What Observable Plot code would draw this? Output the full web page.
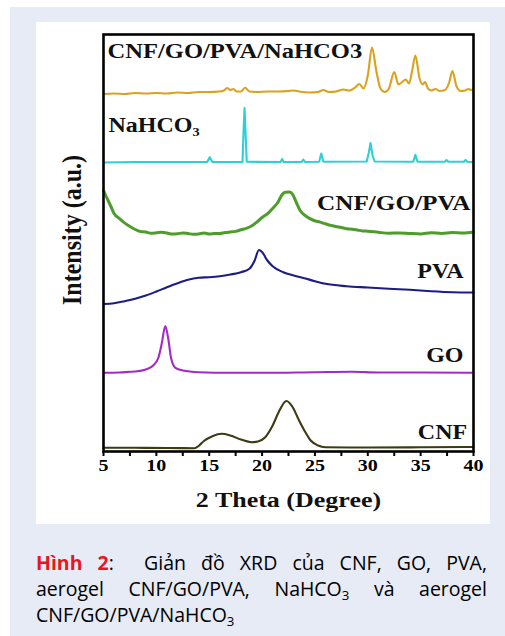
<!DOCTYPE html>
<html>
<head>
<meta charset="utf-8">
<script src="https://cdn.jsdelivr.net/npm/d3@7"></script>
<script src="https://cdn.jsdelivr.net/npm/@observablehq/plot@0.6"></script>
<style>
  html, body { margin: 0; padding: 0; background: #ffffff; }
  #outer { position: absolute; left: 10px; top: 7px; width: 495px; height: 629px; background: #e6ebf6; }
  #card { position: absolute; left: 36px; top: 22px; width: 454px; height: 502px; background: #ffffff; }
  #chart { position: absolute; left: 36px; top: 22px; }
  #cap { position: absolute; left: 36px; top: 550px; width: 451px; font-family: "Open Sans", sans-serif; font-size: 19.5px; line-height: 26px; color: #000; }
  #cap .j { text-align: justify; text-align-last: justify; }
  #cap sub { font-size: 0.68em; vertical-align: -0.3em; line-height: 0; }
  #cap .h { color: #e8161d; font-weight: bold; }
</style>
</head>
<body>
<div id="outer"></div>
<div id="card"></div>
<div id="chart"></div>
<div id="cap">
  <div class="j"><span class="h">Hình 2</span>:&nbsp;&nbsp;Giản đồ XRD của CNF, GO, PVA,</div>
  <div class="j">aerogel CNF/GO/PVA, NaHCO<sub>3</sub> và aerogel</div>
  <div>CNF/GO/PVA/NaHCO<sub>3</sub></div>
</div>
<script>
// ---- Data: [2θ (degree), stacked intensity (a.u.)] ----
const seriesNames = ["CNF/GO/PVA/NaHCO3", "NaHCO3", "CNF/GO/PVA", "PVA", "GO", "CNF"];
const seriesColors = ["#dba21e", "#2dd0d6", "#4e9c2c", "#1c1c84", "#a12bc4", "#3b3b14"];

const cnfGoPvaNa = [
  [5.0,357.5],[6,358],[7,357.5],[8,358.5],[9,358],[10,358.5],[11,358],[12,359],[13,358.5],[14,359.5],
  [15,359.5],[16,360],[16.4,361],[16.7,363.5],[17.0,361.5],[17.3,362.5],[17.6,360],[18.0,360],[18.4,363.7],
  [18.8,360],[19.5,359.5],[20.5,360],[21.5,360],[22.5,360.5],[23.0,361],[23.5,360],[24.5,359],[25.3,359.5],
  [25.8,361.5],[26.3,359.5],[27.0,360],[27.7,362],[28.2,361],[28.8,364],[29.2,367.5],[29.6,363],[30.0,376],
  [30.4,404],[30.8,381],[31.2,363],[31.6,359.5],[32.0,363],[32.5,379.5],[32.9,367],[33.2,369],[33.6,372],
  [33.9,368],[34.2,381],[34.5,396],[34.9,373],[35.2,367],[35.4,369.5],[35.7,363],[36.0,361],[36.4,362.5],
  [36.8,360.5],[37.3,361.5],[37.7,369],[38.0,380.5],[38.4,365],[38.8,360.5],[39.2,361],[39.5,362.5],
  [39.8,361.5],[40,363]
];
const nahco3 = [
  [5,289],[8,289.5],[12,289.5],[14.8,289.5],[15.05,294.3],[15.3,289.5],[18.15,289.5],[18.25,321],[18.34,343.5],
  [18.43,321],[18.55,289.7],[21.75,289.5],[21.9,292.5],[22.05,289.5],[23.75,289.5],[23.9,292],[24.05,289.5],
  [25.4,289.7],[25.6,298],[25.8,289.7],[29.9,290],[30.1,299],[30.26,308.5],[30.45,296],[30.65,290],
  [34.3,289.7],[34.5,296.7],[34.7,289.7],[37.3,289.7],[37.45,291.5],[37.6,289.7],[39.1,289.7],[39.25,291.5],
  [39.4,289.7],[40,289.5]
];
const cnfGoPva = [
  [5.0,261],[5.3,254],[5.7,245],[6.0,238],[6.5,233],[6.9,229.3],[7.5,225],[8.0,222],[8.5,220],[9.0,219.5],
  [9.5,218.3],[10,218.7],[10.5,219.3],[11,218.5],[11.5,217.4],[12,217.7],[12.5,218.6],[13,218],[13.5,217.2],
  [14,217.5],[14.5,218.4],[15,217.5],[15.5,217.9],[16,218],[16.5,218.9],[17,219.5],[17.5,220.1],[18,221.7],
  [18.5,223.1],[19,225.5],[19.5,229.3],[20,234],[20.5,237.7],[21,243],[21.5,249.3],[21.9,257],[22.2,259.3],
  [22.6,259.5],[22.9,257],[23.2,250],[23.6,241],[24.2,235],[24.9,231],[25.5,229.4],[26,227.7],[26.5,226.1],
  [27,225],[27.5,224],[28,222.7],[28.5,222.3],[29,221.5],[29.5,220.6],[30,220.3],[31,219.2],[32,218.3],
  [33,218.6],[34,218],[35,217.6],[36,218.7],[37,218.1],[38,219],[39,218.5],[40,219.5]
];
const pva = [
  [5,147.5],[6,148.3],[7,150.3],[8,152.7],[9,156],[10,160],[11,164.3],[12,168.3],[13,171.7],[14,173.7],
  [15,174.3],[16,175.3],[17,177],[18,179.3],[18.8,182.7],[19.3,191],[19.7,201.5],[20.0,199.5],[20.5,191],
  [21,185.3],[22,179.3],[23,176],[24,173.3],[25,170.3],[26,167.7],[28,165.3],[30,164],[32,162.7],[34,161.7],
  [36,160.3],[38,159.3],[40,159]
];
const go = [
  [5,78.7],[6.5,79],[7.5,79.7],[8,80],[9,82],[9.7,86],[10.2,94],[10.5,107.5],[10.85,125.5],[11.15,111],
  [11.4,93],[11.8,83.7],[12.5,81],[14,79.3],[17,78.7],[20,78.7],[25,79.3],[28.5,79.7],[31,79],[35,79],[40,78.7]
];
const cnf = [
  [5,3.7],[8,3.7],[11,3.5],[13.6,3.3],[14.0,5.5],[14.5,10.5],[15.3,15.3],[16.2,17.7],[17,16],[18,12],
  [19,9.3],[19.6,10],[20.3,14.3],[21,26],[21.6,40],[22.3,50.5],[22.9,44.3],[23.5,31],[24,21],[24.6,11],
  [25.3,6],[26,4.3],[30,4],[35,4.2],[40,4.5]
];
const seriesData = [cnfGoPvaNa, nahco3, cnfGoPva, pva, go, cnf];

// Series labels: text, anchor 2θ, anchor intensity, alignment
const labelTexts = ["CNF/GO/PVA/NaHCO3", "NaHCO₃", "CNF/GO/PVA", "PVA", "GO", "CNF"];
const labelX = [5.38, 5.47, 39.72, 39.05, 39.05, 39.4];
const labelY = [400, 326, 248, 180, 96, 19];
const labelAnchor = ["start", "start", "end", "end", "end", "end"];

const xTicks = [5, 7.5, 10, 12.5, 15, 17.5, 20, 22.5, 25, 27.5, 30, 32.5, 35, 37.5, 40];
const xLabel = "2 Theta (Degree)";
const yLabel = "Intensity (a.u.)";

// ---- Build table ----
const rows = [];
seriesData.forEach((s, k) => s.forEach(([t, v]) => rows.push({series: seriesNames[k], theta: t, intensity: v})));
const labels = labelTexts.map((t, i) => ({text: t, x: labelX[i], y: labelY[i], anchor: labelAnchor[i]}));

const serif = "'Liberation Serif', 'Times New Roman', serif";
const lineMarks = seriesNames.map((name, k) =>
  Plot.line(rows.filter(d => d.series === name), {
    x: "theta", y: "intensity", stroke: seriesColors[k],
    strokeWidth: name === "CNF/GO/PVA" ? 3 : 2.1,
    curve: name === "NaHCO3" ? "linear" : "monotone-x"
  })
);

const chart = Plot.plot({
  width: 454, height: 502,
  marginLeft: 67, marginTop: 12, marginRight: 17, marginBottom: 73,
  style: {fontFamily: serif, background: "transparent", color: "#000"},
  x: {domain: [5, 40]},
  y: {domain: [0, 417], axis: null},
  marks: [
    ...lineMarks,
    Plot.axisX({ticks: xTicks, tickSize: 5, tickPadding: 3, tickFormat: d => (d % 5 === 0 ? String(d) : ""),
      fontSize: 16, fontWeight: "bold", stroke: "#000", strokeWidth: 2, label: null}),
    Plot.frame({stroke: "#000", strokeWidth: 2.6}),
    Plot.text(labels.filter(d => d.anchor === "start"), {x: "x", y: "y", text: "text", textAnchor: "start",
      lineAnchor: "middle", fontSize: d => (d.text === "CNF/GO/PVA/NaHCO3" ? 21 : 20), fontWeight: "bold", fill: "#111"}),
    Plot.text(labels.filter(d => d.anchor === "end"), {x: "x", y: "y", text: "text", textAnchor: "end",
      lineAnchor: "middle", fontSize: 20, fontWeight: "bold", fill: "#111"}),
    Plot.text([xLabel], {frameAnchor: "bottom", dy: 49, lineAnchor: "middle", fontSize: 20, fontWeight: "bold", fill: "#111"}),
    Plot.text([yLabel], {frameAnchor: "left", dx: -31, dy: -13, rotate: -90, textAnchor: "middle",
      lineAnchor: "middle", fontSize: 24, fontWeight: "bold", fill: "#111"})
  ]
});
document.getElementById("chart").appendChild(chart);

// Horizontal stretch of glyphs to mimic the original figure's aspect
chart.querySelectorAll("text").forEach(t => {
  const txt = t.textContent;
  let sx = 1.2;
  if (/^\d+$/.test(txt)) sx = 1.25;
  if (txt === xLabel) sx = 1.3;
  if (txt === "CNF/GO/PVA/NaHCO3") sx = 1.17;
  if (txt === "CNF/GO/PVA") sx = 1.26;
  let tr = t.getAttribute("transform");
  if (!tr) {
    const x = t.getAttribute("x") || 0, y = t.getAttribute("y") || 0;
    t.removeAttribute("x"); t.removeAttribute("y");
    tr = `translate(${x},${y})`;
  }
  if (/rotate/.test(tr)) t.setAttribute("transform", tr + ` scale(1,1.15)`);
  else t.setAttribute("transform", tr + ` scale(${sx},1)`);
});
</script>
</body>
</html>
